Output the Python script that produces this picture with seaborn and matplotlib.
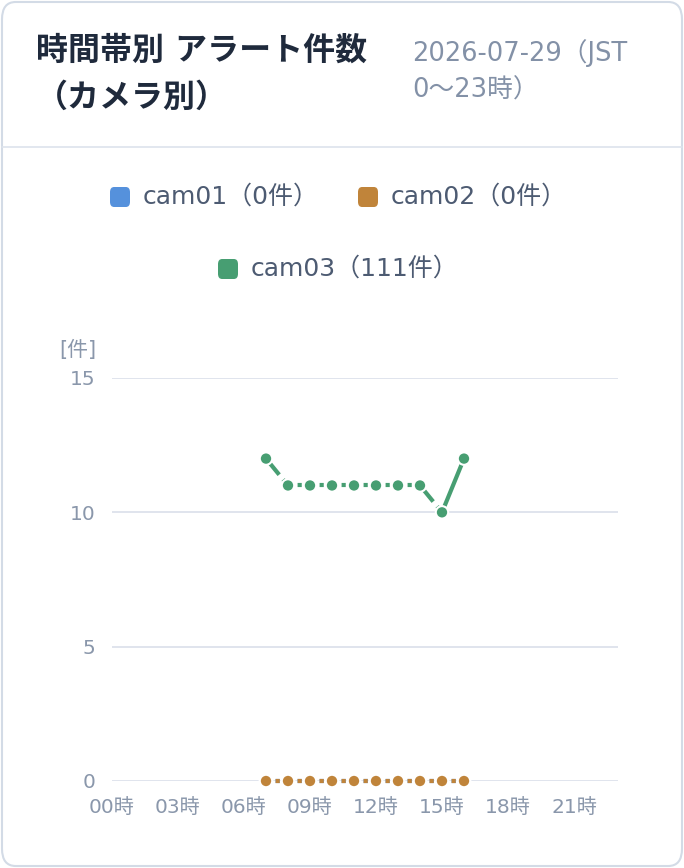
import numpy as np
import pandas as pd
import matplotlib
matplotlib.use("Agg")
import matplotlib.pyplot as plt
import seaborn as sns
from matplotlib.patches import FancyBboxPatch

# data
hours = [7, 8, 9, 10, 11, 12, 13, 14, 15, 16]
cam01 = [0, 0, 0, 0, 0, 0, 0, 0, 0, 0]
cam02 = [0, 0, 0, 0, 0, 0, 0, 0, 0, 0]
cam03 = [12, 11, 11, 11, 11, 11, 11, 11, 10, 12]
cameras = ["cam01", "cam02", "cam03"]
colors = {"cam01": "#5591dc", "cam02": "#c0843a", "cam03": "#479e72"}
xticks = [0, 3, 6, 9, 12, 15, 18, 21]
xtick_labels = [f"{h:02d}時" for h in xticks]
yticks = [0, 5, 10, 15]

df = pd.DataFrame({
    "hour": hours * 3,
    "count": cam01 + cam02 + cam03,
    "camera": ["cam01"] * len(hours) + ["cam02"] * len(hours) + ["cam03"] * len(hours),
})

sns.set_theme(style="white")
plt.rcParams["font.family"] = ["DejaVu Sans", "Noto Sans CJK JP"]

W, H = 684, 868
fig = plt.figure(figsize=(W / 100, H / 100), dpi=100)
fig.patch.set_facecolor("white")

# card border and header separator
card = FancyBboxPatch((2 / W, 2 / H), (W - 4) / W, (H - 4) / H,
                      boxstyle="round,pad=0,rounding_size=0.02",
                      transform=fig.transFigure, facecolor="none",
                      edgecolor="#d3dbe6", linewidth=1.5, zorder=-1)
fig.patches.append(card)
fig.add_artist(plt.Line2D([2 / W, (W - 2) / W], [1 - 147 / H, 1 - 147 / H],
                          transform=fig.transFigure, color="#dde3ec", lw=1.2))

# header
fig.text(36 / W, 1 - 51 / H, "時間帯別 アラート件数", fontsize=23, fontweight="bold",
         color="#1f2a3c", va="center", ha="left")
fig.text(36 / W, 1 - 98 / H, "（カメラ別）", fontsize=23, fontweight="bold",
         color="#1f2a3c", va="center", ha="left")
fig.text(412 / W, 1 - 53 / H, "2026-07-29（JST", fontsize=18.5, color="#8391a7",
         va="center", ha="left")
fig.text(412 / W, 1 - 91 / H, "0〜23時）", fontsize=18.5, color="#8391a7",
         va="center", ha="left")

# legend
legend_items = [("cam01", "cam01（0件）", 110, 197),
                ("cam02", "cam02（0件）", 358, 197),
                ("cam03", "cam03（111件）", 218, 269)]
for cam, label, x0, yc in legend_items:
    box = FancyBboxPatch((x0 / W, 1 - (yc + 10) / H), 20 / W, 20 / H,
                         boxstyle="round,pad=0,rounding_size=0.006",
                         transform=fig.transFigure, facecolor=colors[cam],
                         edgecolor="none")
    fig.patches.append(box)
    fig.text((x0 + 33) / W, 1 - yc / H, label, fontsize=18, color="#4d5b72",
             va="center", ha="left")

# plot area
ax = fig.add_axes([112 / W, 87 / H, 506 / W, 403 / H])
ax.set_facecolor("none")

for cam in cameras:
    sub = df[df["camera"] == cam]
    xs = sub["hour"].to_numpy()
    ys = sub["count"].to_numpy()
    for i in range(len(xs) - 1):
        if ys[i + 1] == ys[i]:
            ls = (0, (1, 1.3))
        elif ys[i + 1] < ys[i]:
            ls = (0, (5, 1.5))
        else:
            ls = "-"
        ax.plot(xs[i:i + 2], ys[i:i + 2], color=colors[cam], lw=3, ls=ls,
                solid_capstyle="butt", dash_capstyle="butt", clip_on=False, zorder=2)

sns.scatterplot(data=df, x="hour", y="count", hue="camera", palette=colors,
                s=80, edgecolor="white", linewidth=1.5, legend=False,
                clip_on=False, zorder=3, ax=ax)

ax.set_xlim(0, 23)
ax.set_ylim(0, 15)
ax.set_xticks(xticks)
ax.set_xticklabels(xtick_labels)
ax.set_yticks(yticks)
ax.grid(axis="y", color="#dde2ec", lw=1.3)
ax.grid(axis="x", visible=False)
ax.set_axisbelow(True)
for s in ax.spines.values():
    s.set_visible(False)
ax.tick_params(axis="both", length=0, labelsize=14.5, colors="#8a97ab")
ax.tick_params(axis="x", pad=12)
ax.tick_params(axis="y", pad=12)
ax.set_xlabel("")
ax.set_ylabel("")
fig.text(78 / W, 1 - 350 / H, "[件]", fontsize=15, color="#8a97ab",
         ha="center", va="center")

fig.savefig("out.png", dpi=100)
